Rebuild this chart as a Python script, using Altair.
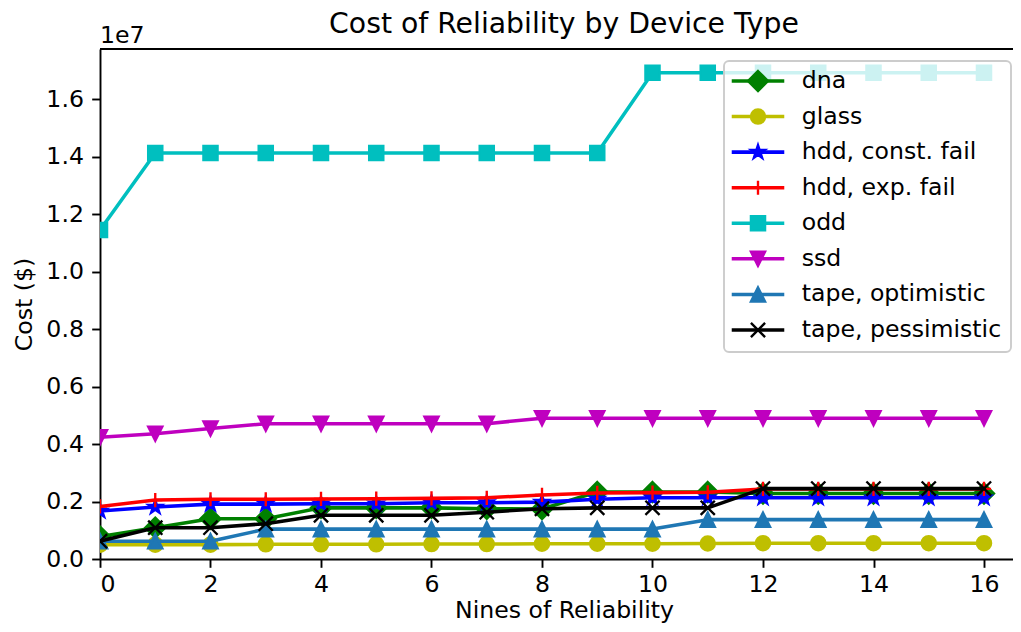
import math
import altair as alt
import pandas as pd

# ---------------- data (cost in millions of $) ----------------
nines = list(range(17))
series_names = ["dna", "glass", "hdd, const. fail", "hdd, exp. fail",
                "odd", "ssd", "tape, optimistic", "tape, pessimistic"]

dna = [0.78, 1.09, 1.40, 1.40, 1.78, 1.78, 1.78, 1.75, 1.74, 2.33, 2.33, 2.33,
       2.28, 2.28, 2.28, 2.28, 2.28]
glass = [0.50, 0.50, 0.50, 0.51, 0.51, 0.51, 0.52, 0.52, 0.53, 0.53, 0.53, 0.54,
         0.55, 0.55, 0.55, 0.55, 0.55]
hdd_const = [1.67, 1.81, 1.91, 1.91, 1.92, 1.92, 1.96, 1.96, 1.98, 2.08, 2.13, 2.13,
             2.13, 2.13, 2.13, 2.13, 2.13]
hdd_exp = [1.83, 2.05, 2.08, 2.08, 2.09, 2.10, 2.11, 2.13, 2.23, 2.30, 2.31, 2.32,
           2.44, 2.44, 2.44, 2.44, 2.44]
odd = [11.45, 14.13, 14.13, 14.13, 14.13, 14.13, 14.13, 14.13, 14.13, 14.13,
       16.92, 16.92, 16.92, 16.92, 16.92, 16.92, 16.92]
ssd = [4.24, 4.36, 4.54, 4.71, 4.71, 4.71, 4.71, 4.71, 4.90, 4.90, 4.90, 4.90,
       4.90, 4.90, 4.90, 4.90, 4.90]
tape_opt = [0.62, 0.62, 0.62, 1.04, 1.04, 1.04, 1.04, 1.04, 1.04, 1.04, 1.04, 1.37,
            1.37, 1.37, 1.37, 1.37, 1.37]
tape_pess = [0.62, 1.09, 1.09, 1.23, 1.52, 1.52, 1.52, 1.63, 1.75, 1.78, 1.78, 1.78,
             2.45, 2.45, 2.45, 2.45, 2.45]
all_values = [dna, glass, hdd_const, hdd_exp, odd, ssd, tape_opt, tape_pess]

colors = ["#008000", "#bfbf00", "#0000ff", "#ff0000",
          "#00bfbf", "#bf00bf", "#1f77b4", "#000000"]

y_ticks = [0, 2, 4, 6, 8, 10, 12, 14, 16]
x_ticks = [0, 2, 4, 6, 8, 10, 12, 14, 16]

# ---------------- marker shapes ----------------
def star_path():
    pts = []
    for k in range(10):
        r = 1.0 if k % 2 == 0 else 0.381966
        a = math.radians(-90 + 36 * k)
        pts.append((r * math.cos(a), r * math.sin(a)))
    return "M" + "L".join(f"{x:.4f},{y:.4f}" for x, y in pts) + "Z"

d = 1.41421
shapes = [
    (f"M0,-{d}L{d},0L0,{d}L-{d},0Z", True),      # diamond
    ("circle", True),                             # circle
    (star_path(), True),                          # star
    ("M-1,0H1M0,-1V1", False),                    # plus
    ("M-1,-1H1V1H-1Z", True),                     # square
    ("M0,1L-1,-1L1,-1Z", True),                   # triangle down
    ("M0,-1L-1,1L1,1Z", True),                    # triangle up
    ("M-1,-1L1,1M-1,1L1,-1", False),              # x
]

FONT = "DejaVu Sans"
FS = 23.6
W, H = 913, 510
MSIZE = 200.7
LW = 3.54
MEW = 2.36

xscale = alt.Scale(domain=[0, W / 55.25], nice=False, zero=False)
yscale = alt.Scale(domain=[0, 17.75], nice=False)
xaxis = alt.Axis(values=x_ticks, format="d", title="Nines of Reliability", titleX=464,
                 labelPadding=5.5, titlePadding=2.3)
yaxis = alt.Axis(values=y_ticks, labelExpr="format(datum.value / 10, '.1f')", title="Cost ($)")

layers = []
for i, (name, vals, col) in enumerate(zip(series_names, all_values, colors)):
    df = pd.DataFrame({"nines": nines, "cost": vals, "series": name})
    base = alt.Chart(df)
    line = base.mark_line(color=col, strokeWidth=LW, clip=True,
                          strokeJoin="round", strokeCap="square").encode(
        x=alt.X("nines:Q", scale=xscale, axis=xaxis),
        y=alt.Y("cost:Q", scale=yscale, axis=yaxis),
    )
    shape, filled = shapes[i]
    pt_kwargs = dict(shape=shape, size=MSIZE, filled=filled, stroke=col,
                     strokeWidth=MEW, opacity=1, clip=True, strokeJoin="miter")
    if filled:
        pt_kwargs["fill"] = col
    pts = base.mark_point(**pt_kwargs).encode(
        x=alt.X("nines:Q", scale=xscale, axis=xaxis),
        y=alt.Y("cost:Q", scale=yscale, axis=yaxis),
    )
    layers += [line, pts]

# top spine
one = pd.DataFrame({"k": [0]})
top_spine = alt.Chart(one).mark_rule(color="black", strokeWidth=1.9).encode(
    x=alt.value(0), x2=alt.value(W), y=alt.value(0))
layers.append(top_spine)

# legend
legend_bg = alt.Chart(one).mark_rect(fill="white", fillOpacity=0.8, stroke="#cccccc",
                                     strokeWidth=1.9, cornerRadius=5).encode(
    x=alt.value(624), x2=alt.value(911), y=alt.value(12), y2=alt.value(303))
layers.append(legend_bg)
for i, (name, col) in enumerate(zip(series_names, colors)):
    yi = 32 + i * 35.57
    ldf = pd.DataFrame({"series": [name]})
    lb = alt.Chart(ldf)
    layers.append(lb.mark_rule(color=col, strokeWidth=LW, strokeCap="square").encode(
        x=alt.value(633.5), x2=alt.value(682.5), y=alt.value(yi)))
    shape, filled = shapes[i]
    pk = dict(shape=shape, size=MSIZE, filled=filled, stroke=col,
              strokeWidth=MEW, opacity=1, strokeJoin="miter")
    if filled:
        pk["fill"] = col
    layers.append(lb.mark_point(**pk).encode(x=alt.value(658), y=alt.value(yi)))
    layers.append(lb.mark_text(align="left", baseline="middle", font=FONT, fontSize=FS,
                               color="black").encode(
        x=alt.value(701.7), y=alt.value(yi), text="series:N"))

# title and offset text
tdf = pd.DataFrame({"t": ["Cost of Reliability by Device Type"]})
title = alt.Chart(tdf).mark_text(align="center", baseline="alphabetic", font=FONT,
                                 fontSize=28.3, color="black").encode(
    x=alt.value(464), y=alt.value(-16), text="t:N")
odf = pd.DataFrame({"t": ["1e7"]})
offset_text = alt.Chart(odf).mark_text(align="left", baseline="alphabetic", font=FONT,
                                       fontSize=FS, color="black").encode(
    x=alt.value(0), y=alt.value(-6), text="t:N")
layers += [title, offset_text]

chart = alt.layer(*layers).properties(
    width=W, height=H,
    autosize=alt.AutoSizeParams(type="none"),
    padding={"left": 92, "top": 41, "right": 0, "bottom": 65},
).configure_view(stroke=None).configure_axis(
    grid=False,
    labelFont=FONT, labelFontSize=FS, labelColor="black",
    titleFont=FONT, titleFontSize=FS, titleFontWeight="normal", titleColor="black",
    tickSize=8.3, tickWidth=1.9, tickColor="black",
    domainWidth=1.9, domainColor="black",
    labelPadding=8.3, titlePadding=9.4,
)

chart.save("out.html", embed_options={"renderer": "svg", "actions": False})
